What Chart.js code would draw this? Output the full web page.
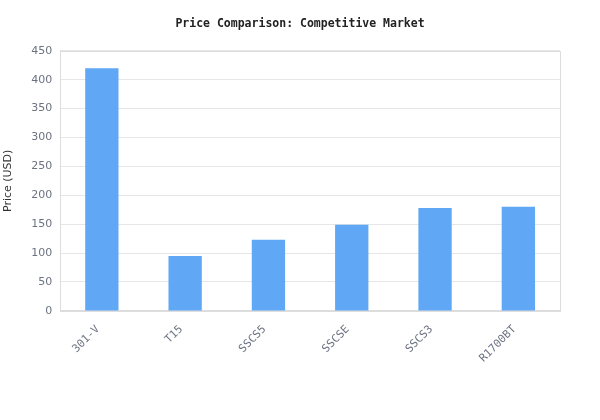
<!DOCTYPE html>
<html>
<head>
<meta charset="utf-8">
<script src="https://cdn.jsdelivr.net/npm/chart.js@4"></script>
<style>
html,body{margin:0;padding:0;background:#fff;}
#wrap{width:600px;height:420px;}
</style>
</head>
<body>
<div id="wrap"><canvas id="c" width="600" height="420"></canvas></div>
<script>
const categories = ["301-V", "T15", "SSCS5", "SSCSE", "SSCS3", "R1700BT"];
const prices = [420, 95, 123, 149, 178, 180];
const yTicks = [0, 50, 100, 150, 200, 250, 300, 350, 400, 450];

const borderPlugin = {
  id: 'areaBorder',
  afterDraw(chart) {
    const a = chart.chartArea, ctx = chart.ctx;
    ctx.save();
    ctx.strokeStyle = '#dddddd';
    ctx.lineWidth = 1;
    ctx.strokeRect(Math.round(a.left) + 0.5, Math.round(a.top) + 0.5, Math.round(a.right - a.left), Math.round(a.bottom - a.top));
    ctx.restore();
  }
};

new Chart(document.getElementById('c'), {
  type: 'bar',
  data: {
    labels: categories,
    datasets: [{
      label: 'Price (USD)',
      data: prices,
      backgroundColor: '#60a8f5',
      borderWidth: 0,
      barPercentage: 0.5,
      categoryPercentage: 0.8
    }]
  },
  options: {
    responsive: false,
    animation: false,
    devicePixelRatio: 1,
    layout: { padding: { left: 0, right: 0, top: 0, bottom: 51 } },
    plugins: {
      legend: { display: false },
      tooltip: { enabled: false },
      title: {
        display: true,
        text: 'Price Comparison: Competitive Market',
        color: '#222222',
        font: { family: '"DejaVu Sans Mono", monospace', size: 11.5, weight: 'bold' },
        padding: { top: 17, bottom: 20 }
      }
    },
    scales: {
      x: {
        grid: { display: false },
        border: { color: '#dddddd' },
        ticks: {
          color: '#6b7280',
          font: { family: '"DejaVu Sans Mono", monospace', size: 11 },
          maxRotation: 45, minRotation: 45,
          padding: 4,
          labelOffset: -4
        }
      },
      y: {
        min: 0, max: 450,
        afterBuildTicks(axis) { axis.ticks = yTicks.map(v => ({ value: v })); },
        grid: { color: '#e6e6e6', drawTicks: false },
        border: { color: '#dddddd' },
        ticks: {
          color: '#6b7280',
          font: { family: '"DejaVu Sans", sans-serif', size: 11 },
          padding: 8
        },
        title: {
          display: true,
          text: 'Price (USD)',
          color: '#333333',
          font: { family: '"DejaVu Sans", sans-serif', size: 11 },
          padding: { top: 2, bottom: 8 }
        }
      },
      yRight: {
        position: 'right',
        display: true,
        grid: { display: false, drawTicks: false },
        border: { display: false },
        ticks: { display: false },
        afterFit(axis) { axis.width = 40; }
      }
    }
  },
  plugins: [borderPlugin]
});
</script>
</body>
</html>
